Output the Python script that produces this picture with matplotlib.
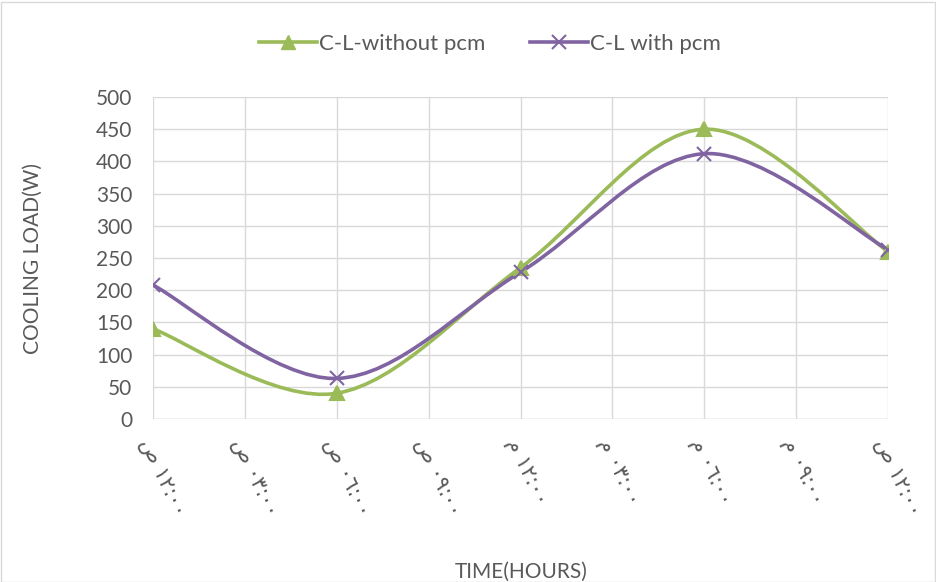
import numpy as np
import matplotlib.pyplot as plt
from matplotlib.path import Path
from matplotlib.patches import PathPatch, Rectangle
from matplotlib.lines import Line2D

plt.rcParams['font.family'] = ['Lato', 'DejaVu Sans']

# time labels (written in visual order, matplotlib has no bidi)
time_labels = ['ص ١٢:٠٠', 'ص ٠٣:٠٠', 'ص ٠٦:٠٠', 'ص ٠٩:٠٠', 'م ١٢:٠٠',
               'م ٠٣:٠٠', 'م ٠٦:٠٠', 'م ٠٩:٠٠', 'ص ١٢:٠٠']
x_pos = [0, 2, 4, 6, 8]
without_pcm = [140, 40, 235, 450, 260]
with_pcm = [208, 63, 228, 412, 263]

green = '#9BBB59'
purple = '#8064A2'
grey_txt = '#595959'


def smooth_path(xs, ys):
    # excel-like smoothed line: bezier segments through the points
    pts = np.column_stack([xs, ys]).astype(float)
    verts = [pts[0]]
    codes = [Path.MOVETO]
    n = len(pts)
    for i in range(n - 1):
        p0 = pts[i - 1] if i > 0 else pts[i]
        p1 = pts[i]
        p2 = pts[i + 1]
        p3 = pts[i + 2] if i + 2 < n else pts[i + 1]
        c1 = p1 + (p2 - p0) / 6.0
        c2 = p2 - (p3 - p1) / 6.0
        verts += [c1, c2, p2]
        codes += [Path.CURVE4] * 3
    return Path(verts, codes)


fig = plt.figure(figsize=(9.36, 5.82), dpi=100)
ax = fig.add_axes([153 / 936, 1 - 419 / 582, (888 - 153) / 936, (419 - 97) / 582])

for ys, col, mk, ms in [(without_pcm, green, '^', 10), (with_pcm, purple, 'x', 10)]:
    ax.add_patch(PathPatch(smooth_path(x_pos, ys), facecolor='none', edgecolor=col,
                           lw=2.6, zorder=3, capstyle='round'))
    ax.plot(x_pos, ys, linestyle='none', marker=mk, color=col, ms=ms,
            mew=1.5, zorder=4)

ax.set_xlim(0, 8)
ax.set_ylim(0, 500)
ax.set_yticks(range(0, 501, 50))
ax.set_xticks(range(9))
ax.set_xticklabels(time_labels, rotation=-65, ha='left', va='top',
                   rotation_mode='anchor', fontsize=15, color=grey_txt,
                   family=['DejaVu Sans'])
ax.tick_params(axis='y', labelsize=15, labelcolor=grey_txt, length=0, pad=15)
ax.tick_params(axis='x', length=0, pad=12)
ax.grid(True, color='#D9D9D9', lw=1)
ax.set_axisbelow(True)
for s in ax.spines.values():
    s.set_visible(False)
ax.axhline(0, color='#D9D9D9', lw=1)

fig.text(33 / 936, 1 - 258 / 582, 'COOLING LOAD(W)', rotation=90, ha='center',
         va='center', fontsize=15, color=grey_txt)
fig.text(521 / 936, 1 - 572 / 582, 'TIME(HOURS)', ha='center', va='center',
         fontsize=15, color=grey_txt)

handles = [Line2D([], [], color=green, lw=2.6, marker='^', ms=10),
           Line2D([], [], color=purple, lw=2.6, marker='x', ms=10, mew=1.5)]
fig.legend(handles, ['C-L-without pcm', 'C-L with pcm'], loc='center',
           bbox_to_anchor=(490 / 936, 1 - 44 / 582), ncol=2, frameon=False,
           fontsize=16, labelcolor=grey_txt, handlelength=2.6, columnspacing=2.0,
           handletextpad=0.1)

fig.patches.append(Rectangle((0.5 / 936, 0.5 / 582), 1 - 2 / 936, 1 - 2 / 582,
                             transform=fig.transFigure, fill=False,
                             edgecolor='#D9D9D9', lw=1))

fig.savefig('out.png', dpi=100)
